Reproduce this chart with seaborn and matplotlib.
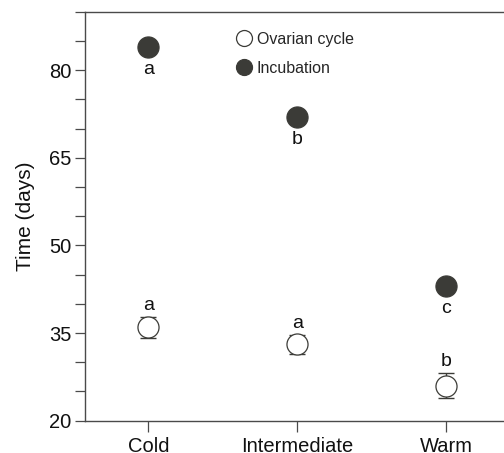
import matplotlib
matplotlib.use("Agg")
import matplotlib.pyplot as plt
from matplotlib.lines import Line2D
from matplotlib.ticker import MultipleLocator
import seaborn as sns
import pandas as pd

# ---- data ----
categories = ["Cold", "Intermediate", "Warm"]
ovarian_mean = [36.0, 33.1, 26.0]
ovarian_err = [1.8, 1.6, 2.2]
incubation_mean = [84.0, 72.0, 43.1]
incubation_err = [0.6, 0.6, 0.6]
ovarian_letters = ["a", "a", "b"]
incubation_letters = ["a", "b", "c"]
legend_labels = ["Ovarian cycle", "Incubation"]
y_label = "Time (days)"

sns.set_theme(style="ticks")
plt.rcParams["font.family"] = ["Liberation Sans", "DejaVu Sans"]

dark = "#3b3b37"
spine_c = "#4a4a4a"

fig = plt.figure(figsize=(5.04, 4.53), dpi=100)
ax = fig.add_axes([85 / 504, 32.3 / 453, 1 - 85 / 504, 409 / 453])

df_o = pd.DataFrame({"cat": categories, "val": ovarian_mean})
df_i = pd.DataFrame({"cat": categories, "val": incubation_mean})

xs = list(range(len(categories)))
ax.errorbar(xs, ovarian_mean, yerr=ovarian_err, fmt="none", ecolor=dark,
            elinewidth=1.0, capsize=6, capthick=1.0, zorder=1)
ax.errorbar(xs, incubation_mean, yerr=incubation_err, fmt="none", ecolor=dark,
            elinewidth=1.0, capsize=6, capthick=1.0, zorder=1)

sns.scatterplot(data=df_o, x="cat", y="val", ax=ax, s=230, color="white",
                edgecolor=dark, linewidth=0.9, zorder=3, legend=False)
sns.scatterplot(data=df_i, x="cat", y="val", ax=ax, s=230, color=dark,
                edgecolor=dark, linewidth=0.9, zorder=3, legend=False)

for i, (v, e, t) in enumerate(zip(ovarian_mean, ovarian_err, ovarian_letters)):
    ax.annotate(t, (i, v + e), xytext=(0, 2), textcoords="offset points",
                ha="center", va="bottom", fontsize=14, color="#111111")
for i, (v, t) in enumerate(zip(incubation_mean, incubation_letters)):
    ax.annotate(t, (i, v), xytext=(0, -10), textcoords="offset points",
                ha="center", va="top", fontsize=14, color="#111111")

ax.set_xlim(-0.425, 2.389)
ax.set_ylim(20, 90)
ax.yaxis.set_major_locator(MultipleLocator(15))
ax.yaxis.set_minor_locator(MultipleLocator(5))
ax.set_yticks([20, 35, 50, 65, 80])
ax.set_xlabel("")
ax.set_ylabel(y_label, fontsize=15, color="#111111", labelpad=10)

for s in ["left", "top", "bottom"]:
    ax.spines[s].set_color(spine_c)
    ax.spines[s].set_linewidth(1.0)
ax.spines["right"].set_visible(False)

ax.tick_params(axis="y", which="both", length=7, width=0.9, color=spine_c,
               labelsize=14.5, labelcolor="#111111", pad=3)
ax.tick_params(axis="x", which="both", length=8, width=0.9, color=spine_c,
               labelsize=14.5, labelcolor="#111111", pad=4)

handles = [
    Line2D([], [], linestyle="none", marker="o", markersize=11.5,
           markerfacecolor="white", markeredgecolor=dark, markeredgewidth=0.9),
    Line2D([], [], linestyle="none", marker="o", markersize=11.5,
           markerfacecolor=dark, markeredgecolor=dark, markeredgewidth=0.9),
]
ax.legend(handles, legend_labels, loc="upper left",
          bbox_to_anchor=(237 / 504, 1 - 32 / 453), bbox_transform=fig.transFigure,
          frameon=False, fontsize=11.5, handlelength=0.9, handletextpad=0.35,
          borderpad=0, borderaxespad=0, labelspacing=0.85)

fig.savefig("out.png", dpi=100)
